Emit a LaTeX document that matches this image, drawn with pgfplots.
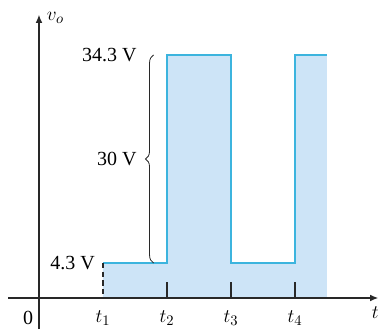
\documentclass[border=0pt]{standalone}
\usepackage{pgfplots}
\pgfplotsset{compat=1.18}
\usepackage{fontspec}
\setmainfont{Liberation Serif}
\usetikzlibrary{decorations.pathreplacing,arrows.meta}
\definecolor{wfill}{RGB}{205,228,247}
\definecolor{wline}{RGB}{60,180,222}
\definecolor{axgray}{RGB}{40,40,40}
\begin{document}
\begin{tikzpicture}
\begin{axis}[
  scale only axis, width=284.25pt, height=246.75pt,
  xmin=-0.609, xmax=5.3125, ymin=-5.22, ymax=42.23,
  axis lines=none, clip=false,
  font=\fontsize{15}{17}\selectfont,
]
% filled waveform area
\addplot[fill=wfill, draw=none] coordinates {
  (1,-0.748) (1,4.3) (2,4.3) (2,34.3) (3,34.3) (3,4.3) (4,4.3) (4,34.3) (4.5,34.3) (4.5,-0.748)
} -- cycle;
% waveform line
\addplot[wline, line width=1.6pt, line join=miter] coordinates {
  (1,4.3) (2,4.3) (2,34.3) (3,34.3) (3,4.3) (4,4.3) (4,34.3) (4.5,34.3)
};
% dashed at t1
\draw[axgray, line width=0.9pt, dash pattern=on 4pt off 2.5pt] (axis cs:1,4.3) -- (axis cs:1,-0.748);
% tick marks
\draw[axgray, line width=0.9pt] (axis cs:2,-0.748) -- (axis cs:2,1.5);
\draw[axgray, line width=0.9pt] (axis cs:3,-0.748) -- (axis cs:3,1.5);
\draw[axgray, line width=0.9pt] (axis cs:4,-0.748) -- (axis cs:4,1.5);
% axes
\draw[axgray, line width=0.9pt, -{Latex[length=6pt,width=5pt]}] (axis cs:-0.484,-0.748) -- (axis cs:5.30,-0.748);
\draw[axgray, line width=0.9pt, -{Latex[length=6pt,width=5pt]}] (axis cs:0,-5.22) -- (axis cs:0,40.1);
% labels
\node[anchor=west, inner sep=0pt] at (axis cs:0.12,39.7) {$v_o$};
\node[anchor=east, inner sep=0pt] at (axis cs:1.53,34.3) {34.3 V};
\node[anchor=east, inner sep=0pt] at (axis cs:0.875,4.3) {4.3 V};
\node[anchor=east, inner sep=0pt] at (axis cs:1.53,19.3) {30 V};
\draw[axgray, line width=0.6pt, decorate, decoration={brace, amplitude=6pt}] (axis cs:1.79,4.3) -- (axis cs:1.79,34.3);
\node[inner sep=0pt] at (axis cs:-0.17,-3.63) {0};
\node[inner sep=0pt] at (axis cs:1,-3.63) {$t_1$};
\node[inner sep=0pt] at (axis cs:2,-3.63) {$t_2$};
\node[inner sep=0pt] at (axis cs:3,-3.63) {$t_3$};
\node[inner sep=0pt] at (axis cs:4,-3.63) {$t_4$};
\node[anchor=east, inner sep=0pt] at (axis cs:5.31,-2.8) {$t$};
\end{axis}
\pgfresetboundingbox
\path (current axis.south west) rectangle (current axis.north east);
\end{tikzpicture}
\end{document}
